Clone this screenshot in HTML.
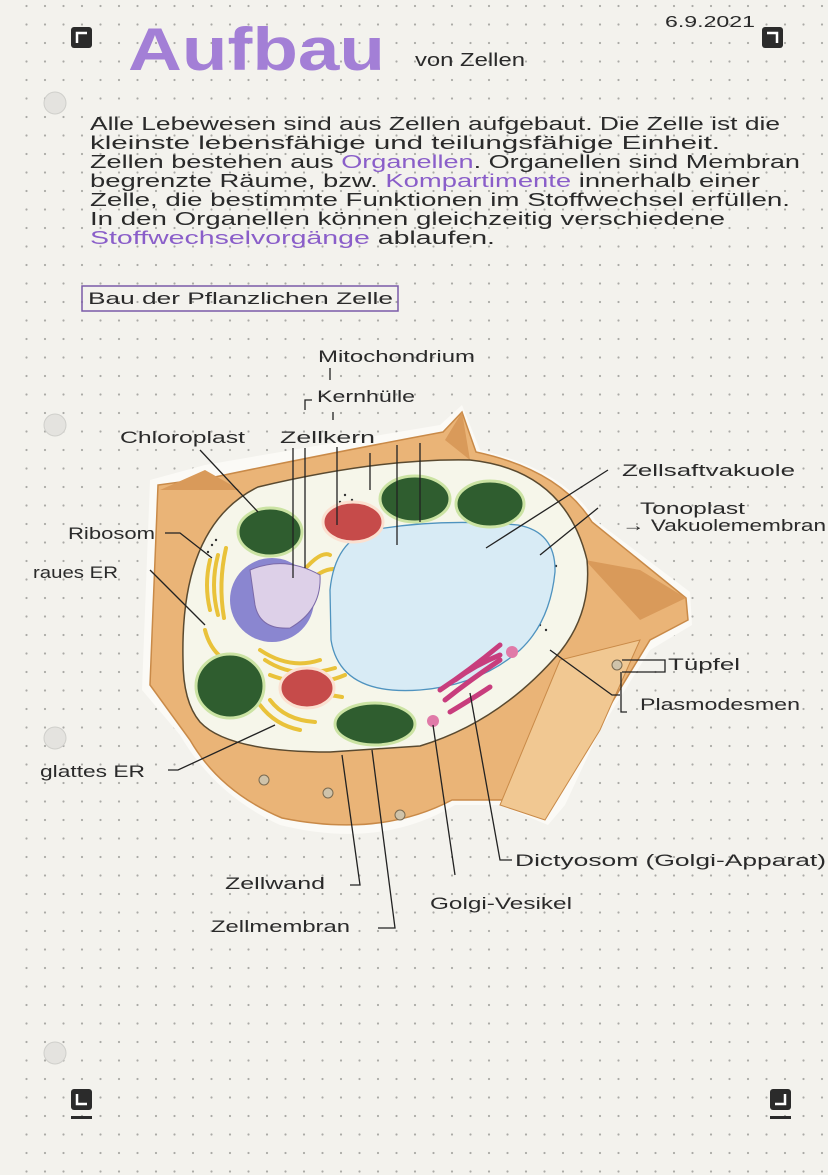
<!DOCTYPE html>
<html><head><meta charset="utf-8">
<style>
html,body{margin:0;padding:0;background:#f3f2ed;}
svg{display:block}
text{font-family:"Liberation Sans","DejaVu Sans",sans-serif;fill:#2a2a2a}
</style></head>
<body>
<svg width="828" height="1175" viewBox="0 0 828 1175" xmlns="http://www.w3.org/2000/svg">
<defs>
<pattern id="dots" width="18.5" height="18.5" patternUnits="userSpaceOnUse" x="6" y="4">
<circle cx="2" cy="2" r="1.1" fill="#aaaaa6"/>
</pattern>
</defs>
<rect width="828" height="1175" fill="#f3f2ed"/>
<rect x="14" y="0" width="814" height="1175" fill="url(#dots)"/>
<g fill="#e4e3df" stroke="#cfcfcb">
<circle cx="55" cy="103" r="11"/><circle cx="55" cy="425" r="11"/><circle cx="55" cy="738" r="11"/><circle cx="55" cy="1053" r="11"/>
</g>
<g>
<rect x="71" y="27" width="21" height="21" rx="3" fill="#2b2b2b"/><path d="M77,43 V33 H87" stroke="#fff" stroke-width="2.5" fill="none"/>
<rect x="762" y="27" width="21" height="21" rx="3" fill="#2b2b2b"/><path d="M767,33 H777 V43" stroke="#fff" stroke-width="2.5" fill="none"/>
<rect x="71" y="1089" width="21" height="21" rx="3" fill="#2b2b2b"/><path d="M77,1094 V1104 H87" stroke="#fff" stroke-width="2.5" fill="none"/><rect x="71" y="1116" width="21" height="3" fill="#2b2b2b"/>
<rect x="770" y="1089" width="21" height="21" rx="3" fill="#2b2b2b"/><path d="M775,1104 H785 V1094" stroke="#fff" stroke-width="2.5" fill="none"/><rect x="770" y="1116" width="21" height="3" fill="#2b2b2b"/>
</g>
<text x="128" y="70" font-size="60" font-weight="bold" style="fill:#a37fd6" textLength="257" lengthAdjust="spacingAndGlyphs">Aufbau</text>
<text x="415" y="66" font-size="18" textLength="110" lengthAdjust="spacingAndGlyphs">von Zellen</text>
<text x="665" y="27" font-size="16" textLength="90" lengthAdjust="spacingAndGlyphs">6.9.2021</text>
<g font-size="18">
<text x="90" y="130" textLength="690" lengthAdjust="spacingAndGlyphs">Alle Lebewesen sind aus Zellen aufgebaut. Die Zelle ist die</text>
<text x="90" y="149" textLength="630" lengthAdjust="spacingAndGlyphs">kleinste lebensfähige und teilungsfähige Einheit.</text>
<text x="90" y="168" textLength="710" lengthAdjust="spacingAndGlyphs">Zellen bestehen aus <tspan style="fill:#8a5ec9">Organellen</tspan>. Organellen sind Membran</text>
<text x="90" y="187" textLength="670" lengthAdjust="spacingAndGlyphs">begrenzte Räume, bzw. <tspan style="fill:#8a5ec9">Kompartimente</tspan> innerhalb einer</text>
<text x="90" y="206" textLength="700" lengthAdjust="spacingAndGlyphs">Zelle, die bestimmte Funktionen im Stoffwechsel erfüllen.</text>
<text x="90" y="225" textLength="635" lengthAdjust="spacingAndGlyphs">In den Organellen können gleichzeitig verschiedene</text>
<text x="90" y="244" textLength="405" lengthAdjust="spacingAndGlyphs"><tspan style="fill:#8a5ec9">Stoffwechselvorgänge</tspan> ablaufen.</text>
</g>
<rect x="82" y="286" width="316" height="25" fill="none" stroke="#7a5aa8" stroke-width="1.5"/>
<text x="88" y="304" font-size="17" textLength="305" lengthAdjust="spacingAndGlyphs">Bau der Pflanzlichen Zelle</text>

<path d="M142,690 L150,480 L205,465 Q320,445 440,425 L462,405 L480,450 Q565,470 595,520 L690,592 L692,625 L650,650 L600,730 L565,805 L548,825 L500,805 L455,805 Q380,850 280,825 Q215,795 180,735 Z" fill="#fbfaf6"/>
<path d="M150,685 L158,485 L210,478 Q320,455 443,432 L462,412 L476,452 Q560,470 592,522 L686,598 L688,620 L650,640 L600,722 L556,800 L500,800 L452,800 Q380,838 282,818 Q220,792 190,740 Z" fill="#eab477" stroke="#c98a48" stroke-width="1.5"/>
<path d="M160,490 L205,470 L240,490 Z M445,440 L462,412 L470,460 Z M585,560 L640,570 L686,598 L640,620 Z" fill="#d99a5a"/>
<path d="M500,805 L545,820 L600,730 L640,640 L560,660 Z" fill="#f1c892" stroke="#c98a48"/>
<path d="M183,660 Q180,525 258,487 Q380,458 470,460 Q565,470 587,560 Q592,612 560,652 Q500,722 420,746 L330,752 Q228,752 200,722 Q183,702 183,660 Z" fill="#f6f6ea" stroke="#5a4a30" stroke-width="1.5"/>
<g stroke="#e9c23a" stroke-width="4" fill="none" stroke-linecap="round">
<path d="M210,560 q-6,25 0,50"/><path d="M218,555 q-8,30 0,60"/><path d="M226,548 q-8,35 -2,70"/><path d="M205,630 q5,20 20,30"/>
<path d="M300,575 q20,-25 30,-20"/><path d="M305,585 q20,-20 35,-15"/><path d="M260,650 q30,20 60,10"/><path d="M265,660 q30,20 70,8"/>
<path d="M270,675 q40,15 75,0"/><path d="M260,705 q15,20 40,25"/><path d="M270,700 q15,20 45,22"/><path d="M330,695 l12,2"/><path d="M340,715 l10,3"/>
</g>
<g fill="#333"><circle cx="212" cy="545" r="1.2"/><circle cx="208" cy="552" r="1.2"/><circle cx="216" cy="540" r="1.2"/><circle cx="345" cy="495" r="1.2"/><circle cx="352" cy="500" r="1.2"/><circle cx="340" cy="502" r="1.2"/><circle cx="540" cy="625" r="1.2"/><circle cx="546" cy="630" r="1.2"/><circle cx="550" cy="560" r="1.2"/><circle cx="556" cy="566" r="1.2"/></g>
<path d="M330,590 Q335,540 372,530 Q440,518 518,525 Q556,532 555,572 Q550,622 520,650 Q480,685 420,690 Q340,696 331,640 Z" fill="#d8ebf5" stroke="#4f93bf" stroke-width="1.3"/>
<circle cx="272" cy="600" r="42" fill="#8a86d0"/>
<path d="M250,570 Q285,555 320,575 Q322,610 290,628 Q260,630 255,605 Z" fill="#ddd0e8" stroke="#7b6aa8"/>
<g fill="#2f5d2f" stroke="#cbe3a3" stroke-width="3">
<ellipse cx="270" cy="532" rx="32" ry="24"/><ellipse cx="415" cy="499" rx="35" ry="23"/><ellipse cx="490" cy="504" rx="34" ry="23"/>
<ellipse cx="230" cy="686" rx="34" ry="32"/><ellipse cx="375" cy="724" rx="40" ry="21"/>
</g>
<g fill="#c64b4a" stroke="#fbe0d0" stroke-width="3">
<ellipse cx="353" cy="522" rx="30" ry="20"/><ellipse cx="307" cy="688" rx="27" ry="20"/>
</g>
<g stroke="#c83d7d" stroke-width="5" stroke-linecap="round" fill="none">
<path d="M445,700 q25,-20 55,-40"/><path d="M440,690 q30,-20 60,-45"/><path d="M450,712 q25,-15 40,-25"/><path d="M455,680 q20,-15 45,-25"/>
</g>
<circle cx="512" cy="652" r="6" fill="#e07aa8"/><circle cx="433" cy="721" r="6" fill="#e07aa8"/>
<g fill="#cfc3aa" stroke="#7a6a50"><circle cx="264" cy="780" r="5"/><circle cx="328" cy="793" r="5"/><circle cx="400" cy="815" r="5"/><circle cx="617" cy="665" r="5"/></g>

<g stroke="#222" stroke-width="1.3" fill="none">
<path d="M330,368 V380"/><path d="M305,410 V400 H312"/><path d="M333,412 V420"/>
<path d="M200,450 L258,512"/><path d="M293,448 V578"/><path d="M305,448 V568"/><path d="M337,447 V525"/>
<path d="M370,453 V490"/><path d="M397,445 V545"/><path d="M420,443 V522"/>
<path d="M165,533 H180 L212,558"/><path d="M150,570 L205,625"/><path d="M168,770 H178 L275,725"/>
<path d="M608,470 L486,548"/><path d="M598,508 L540,555"/>
<path d="M550,650 L612,695 H620"/>
<path d="M622,660 H665 V672 H622"/><path d="M621,672 V712 H627"/>
<path d="M342,755 L360,885 H350"/><path d="M372,750 L395,928 H378"/><path d="M433,725 L455,875"/><path d="M470,693 L500,860 H512"/>
</g>
<g font-size="17">
<text x="318" y="362" textLength="157" lengthAdjust="spacingAndGlyphs">Mitochondrium</text>
<text x="317" y="402" textLength="98" lengthAdjust="spacingAndGlyphs">Kernhülle</text>
<text x="120" y="443" textLength="125" lengthAdjust="spacingAndGlyphs">Chloroplast</text>
<text x="280" y="443" textLength="95" lengthAdjust="spacingAndGlyphs">Zellkern</text>
<text x="622" y="476" textLength="173" lengthAdjust="spacingAndGlyphs">Zellsaftvakuole</text>
<text x="640" y="514" textLength="105" lengthAdjust="spacingAndGlyphs">Tonoplast</text>
<text x="622" y="531" textLength="204" lengthAdjust="spacingAndGlyphs">→ Vakuolemembran</text>
<text x="68" y="539" textLength="87" lengthAdjust="spacingAndGlyphs">Ribosom</text>
<text x="33" y="578" textLength="85" lengthAdjust="spacingAndGlyphs">raues ER</text>
<text x="668" y="670" textLength="72" lengthAdjust="spacingAndGlyphs">Tüpfel</text>
<text x="640" y="710" textLength="160" lengthAdjust="spacingAndGlyphs">Plasmodesmen</text>
<text x="40" y="777" textLength="105" lengthAdjust="spacingAndGlyphs">glattes ER</text>
<text x="515" y="866" textLength="311" lengthAdjust="spacingAndGlyphs">Dictyosom (Golgi-Apparat)</text>
<text x="225" y="889" textLength="100" lengthAdjust="spacingAndGlyphs">Zellwand</text>
<text x="430" y="909" textLength="142" lengthAdjust="spacingAndGlyphs">Golgi-Vesikel</text>
<text x="211" y="932" textLength="139" lengthAdjust="spacingAndGlyphs">Zellmembran</text>
</g>
</svg>
</body></html>
